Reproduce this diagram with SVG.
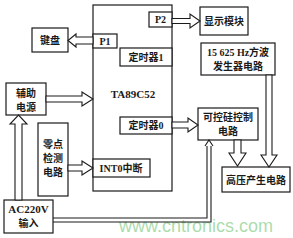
<svg xmlns="http://www.w3.org/2000/svg" width="293" height="238" viewBox="0 0 293 238">
<style>
.box{fill:#fff;stroke:#1a1a1a;stroke-width:1.2}
.arr{fill:#fff;stroke:#1a1a1a;stroke-width:1.1;stroke-linejoin:miter}
.ln{fill:none;stroke:#1a1a1a;stroke-width:1.1}
.t{font-family:"Liberation Serif","Noto Sans CJK SC",serif;font-size:10px;font-weight:bold;fill:#1a1a1a;text-anchor:middle}
.wm{font-family:"Liberation Sans","DejaVu Sans",sans-serif;font-size:18px;fill:#8fd08f;fill-opacity:0.75;text-anchor:middle}
</style>
<rect width="293" height="238" fill="#fff"/>
<text class="wm" x="196" y="232">www.cntronics.com</text>
<g id="chip">
<rect class="box" x="93" y="5" width="79" height="186"/>
<text class="t" x="133" y="98" style="font-size:11px">TA89C52</text>
</g>
<g id="p2"><rect class="box" x="149" y="12" width="23" height="15"/><text class="t" x="160.5" y="23">P2</text></g>
<g id="p1"><rect class="box" x="93" y="34" width="24" height="14"/><text class="t" x="105" y="45">P1</text></g>
<g id="timer1"><rect class="box" x="120" y="48" width="52" height="18"/><text class="t" x="146" y="61">定时器1</text></g>
<g id="timer0"><rect class="box" x="120" y="117" width="52" height="17"/><text class="t" x="146" y="129">定时器0</text></g>
<g id="int0"><rect class="box" x="93" y="159" width="57" height="18"/><text class="t" x="121" y="172">INT0中断</text></g>
<g id="keyboard"><rect class="box" x="32" y="28" width="36" height="24"/><text class="t" x="50" y="44">键盘</text></g>
<g id="aux"><rect class="box" x="6" y="83" width="40" height="32"/><text class="t" x="26" y="97">辅助</text><text class="t" x="26" y="111">电源</text></g>
<g id="zero"><rect class="box" x="38" y="123" width="30" height="73"/><text class="t" x="53" y="148">零点</text><text class="t" x="53" y="162">检测</text><text class="t" x="53" y="176">电路</text></g>
<g id="ac"><rect class="box" x="4" y="200" width="49" height="33"/><text class="t" x="28.5" y="213" style="font-size:11px">AC220V</text><text class="t" x="28.5" y="227">输入</text></g>
<g id="display"><rect class="box" x="200" y="7" width="48" height="28"/><text class="t" x="224" y="25">显示模块</text></g>
<g id="osc"><rect class="box" x="201" y="43" width="74" height="32"/><text class="t" x="238" y="56">15 625 Hz方波</text><text class="t" x="238" y="70">发生器电路</text></g>
<g id="scr"><rect class="box" x="198" y="108" width="60" height="32"/><text class="t" x="228" y="121">可控硅控制</text><text class="t" x="228" y="135">电路</text></g>
<g id="hv"><rect class="box" x="222" y="167" width="68" height="25"/><text class="t" x="256" y="184">高压产生电路</text></g>
<g id="connectors">
<polygon class="arr" points="93,37 76,37 76,34 68,40.5 76,47 76,44 93,44"/>
<polygon class="arr" points="172,18.5 190,18.5 190,14 200,21 190,28 190,23.5 172,23.5"/>
<polygon class="arr" points="172,122 188,122 188,118 198,125 188,132 188,128 172,128"/>
<polygon class="arr" points="68,165 82,165 82,161 93,168 82,175 82,171 68,171"/>
<polygon class="arr" points="46,96 82,96 82,92 93,99 82,106 82,102 46,102"/>
<polygon class="arr" points="15,200 15,124 10,124 18.5,115 27,124 22,124 22,200"/>
<polygon class="arr" points="234,140 234,153 229,153 237.5,166 246,153 241,153 241,140"/>
<polygon class="arr" points="266,75 266,155 261,155 269,167 277,155 272,155 272,75"/>
<path class="ln" d="M53,218 H207 V146 M53,222 H211 V146 M205,146 L209,140 L213,146"/>
</g>
</svg>
